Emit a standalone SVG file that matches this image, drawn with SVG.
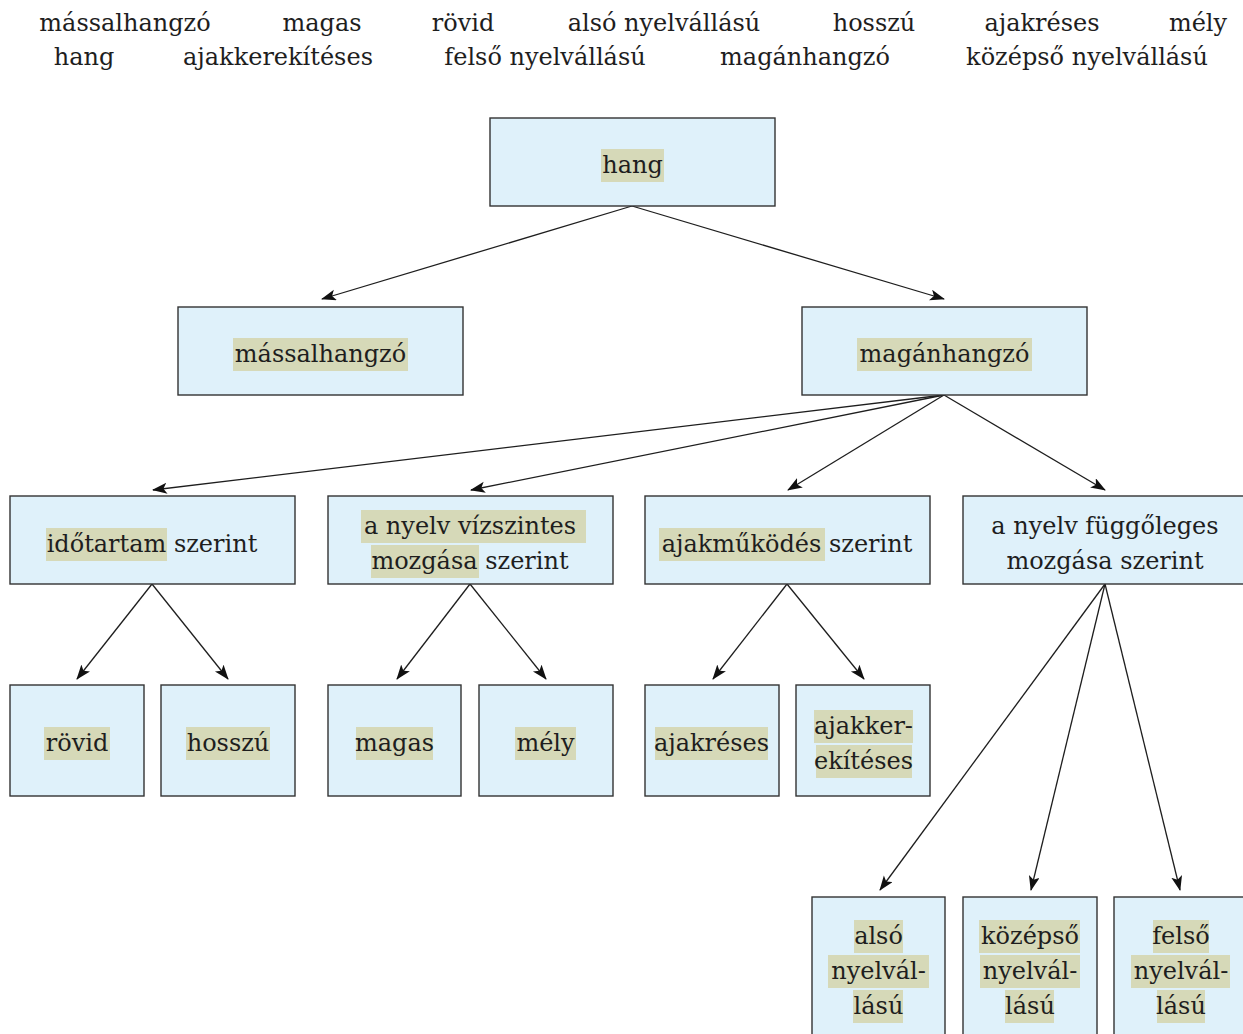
<svg xmlns="http://www.w3.org/2000/svg" width="1243" height="1034" viewBox="0 0 1243 1034">
<style>
text{font-family:"DejaVu Serif","Liberation Serif",serif;font-size:24px;fill:#1e1e1e;text-anchor:middle}
.box{fill:#dff1fa;stroke:#333;stroke-width:1.4}
.hl{fill:#d6d9b8}
.edge{stroke:#1e1e1e;stroke-width:1.3;fill:none;marker-end:url(#ah)}
</style>
<defs>
<marker id="ah" markerUnits="userSpaceOnUse" markerWidth="16" markerHeight="12" refX="14" refY="5.5" orient="auto">
<path d="M0,0 L15,5.5 L0,11 L3.5,5.5 z" fill="#111"/>
</marker>
</defs>
<rect width="1243" height="1034" fill="#fff"/>
<g id="wordlist">
<text x="125" y="31">mássalhangzó</text>
<text x="322" y="31">magas</text>
<text x="463" y="31">rövid</text>
<text x="664" y="31">alsó nyelvállású</text>
<text x="874" y="31">hosszú</text>
<text x="1042" y="31">ajakréses</text>
<text x="1198" y="31">mély</text>
<text x="84" y="65">hang</text>
<text x="278" y="65">ajakkerekítéses</text>
<text x="545" y="65">felső nyelvállású</text>
<text x="805" y="65">magánhangzó</text>
<text x="1087" y="65">középső nyelvállású</text>
</g>
<g id="connectors">
<line class="edge" x1="632" y1="206" x2="322" y2="299"/>
<line class="edge" x1="632" y1="206" x2="944" y2="299"/>
<line class="edge" x1="944" y1="395" x2="153" y2="490"/>
<line class="edge" x1="944" y1="395" x2="471" y2="490"/>
<line class="edge" x1="944" y1="395" x2="788" y2="490"/>
<line class="edge" x1="944" y1="395" x2="1105" y2="490"/>
<line class="edge" x1="152" y1="584" x2="77" y2="679"/>
<line class="edge" x1="152" y1="584" x2="228" y2="679"/>
<line class="edge" x1="470" y1="584" x2="397" y2="679"/>
<line class="edge" x1="470" y1="584" x2="546" y2="679"/>
<line class="edge" x1="787" y1="584" x2="713" y2="679"/>
<line class="edge" x1="787" y1="584" x2="864" y2="679"/>
<line class="edge" x1="1105" y1="584" x2="880" y2="890"/>
<line class="edge" x1="1105" y1="584" x2="1031" y2="890"/>
<line class="edge" x1="1105" y1="584" x2="1180" y2="890"/>
</g>
<g id="n-hang">
<rect class="box" x="490" y="118" width="285" height="88"/>
<rect class="hl" x="601" y="149" width="63" height="33"/>
<text x="632.5" y="173">hang</text>
</g>
<g id="n-massalhangzo">
<rect class="box" x="178" y="307" width="285" height="88"/>
<rect class="hl" x="233" y="338" width="175" height="33"/>
<text x="320.5" y="362">mássalhangzó</text>
</g>
<g id="n-maganhangzo">
<rect class="box" x="802" y="307" width="285" height="88"/>
<rect class="hl" x="857" y="338" width="175" height="33"/>
<text x="944.5" y="362">magánhangzó</text>
</g>
<g id="n-idotartam">
<rect class="box" x="10" y="496" width="285" height="88"/>
<rect class="hl" x="46" y="528" width="121" height="33"/>
<text x="152" y="552">időtartam szerint</text>
</g>
<g id="n-vizszintes">
<rect class="box" x="328" y="496" width="285" height="88"/>
<rect class="hl" x="361" y="510" width="225" height="33"/>
<rect class="hl" x="371" y="545" width="108" height="33"/>
<text x="470" y="534">a nyelv vízszintes</text>
<text x="470" y="569">mozgása szerint</text>
</g>
<g id="n-ajakmukodes">
<rect class="box" x="645" y="496" width="285" height="88"/>
<rect class="hl" x="659" y="528" width="166" height="33"/>
<text x="787" y="552">ajakműködés szerint</text>
</g>
<g id="n-fuggoleges">
<rect class="box" x="963" y="496" width="285" height="88"/>
<text x="1105" y="534">a nyelv függőleges</text>
<text x="1105" y="569">mozgása szerint</text>
</g>
<g id="n-rovid">
<rect class="box" x="10" y="685" width="134" height="111"/>
<rect class="hl" x="44" y="727" width="66" height="33"/>
<text x="77" y="751">rövid</text>
</g>
<g id="n-hosszu">
<rect class="box" x="161" y="685" width="134" height="111"/>
<rect class="hl" x="186" y="727" width="84" height="33"/>
<text x="228" y="751">hosszú</text>
</g>
<g id="n-magas">
<rect class="box" x="328" y="685" width="133" height="111"/>
<rect class="hl" x="356" y="727" width="77" height="33"/>
<text x="394.5" y="751">magas</text>
</g>
<g id="n-mely">
<rect class="box" x="479" y="685" width="134" height="111"/>
<rect class="hl" x="515" y="727" width="61" height="33"/>
<text x="545.5" y="751">mély</text>
</g>
<g id="n-ajakreses">
<rect class="box" x="645" y="685" width="134" height="111"/>
<rect class="hl" x="655" y="727" width="113" height="33"/>
<text x="711.5" y="751">ajakréses</text>
</g>
<g id="n-ajakkerekites">
<rect class="box" x="796" y="685" width="134" height="111"/>
<rect class="hl" x="814" y="710" width="99" height="33"/>
<rect class="hl" x="816" y="745" width="96" height="33"/>
<text x="863.5" y="734">ajakker-</text>
<text x="863.5" y="769">ekítéses</text>
</g>
<g id="n-also">
<rect class="box" x="812" y="897" width="133" height="150"/>
<rect class="hl" x="854" y="920" width="49" height="33"/>
<rect class="hl" x="828" y="955" width="101" height="33"/>
<rect class="hl" x="853" y="990" width="50" height="33"/>
<text x="878.5" y="944">alsó</text>
<text x="878.5" y="979">nyelvál-</text>
<text x="878.5" y="1014">lású</text>
</g>
<g id="n-kozepso">
<rect class="box" x="963" y="897" width="134" height="150"/>
<rect class="hl" x="979" y="920" width="101" height="33"/>
<rect class="hl" x="980" y="955" width="100" height="33"/>
<rect class="hl" x="1005" y="990" width="49" height="33"/>
<text x="1030" y="944">középső</text>
<text x="1030" y="979">nyelvál-</text>
<text x="1030" y="1014">lású</text>
</g>
<g id="n-felso">
<rect class="box" x="1114" y="897" width="134" height="150"/>
<rect class="hl" x="1153" y="920" width="56" height="33"/>
<rect class="hl" x="1131" y="955" width="99" height="33"/>
<rect class="hl" x="1157" y="990" width="48" height="33"/>
<text x="1181" y="944">felső</text>
<text x="1181" y="979">nyelvál-</text>
<text x="1181" y="1014">lású</text>
</g>
</svg>
